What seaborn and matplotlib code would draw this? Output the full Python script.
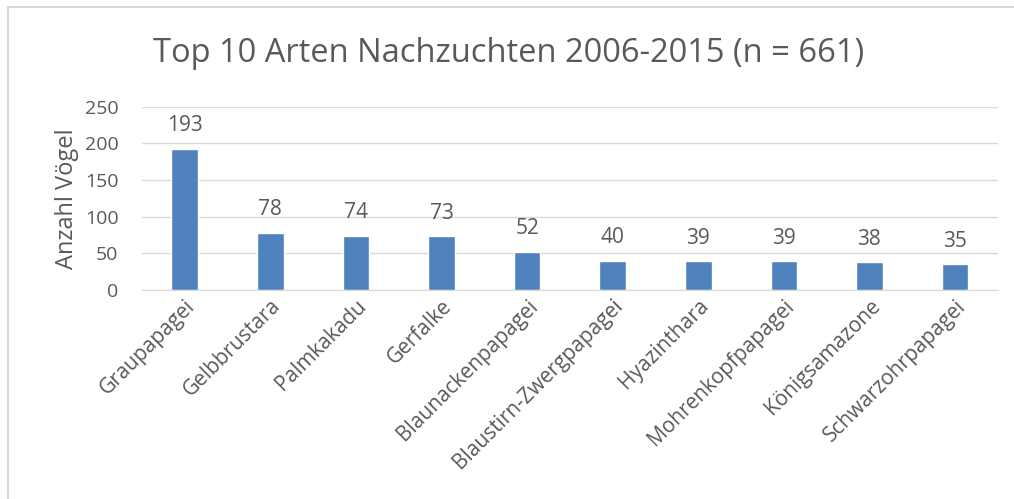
import numpy as np
import pandas as pd
import matplotlib.pyplot as plt
import seaborn as sns
from matplotlib.patches import Rectangle

arten = ["Graupapagei", "Gelbbrustara", "Palmkakadu", "Gerfalke", "Blaunackenpapagei",
         "Blaustirn-Zwergpapagei", "Hyazinthara", "Mohrenkopfpapagei", "Königsamazone",
         "Schwarzohrpapagei"]
anzahl = [193, 78, 74, 73, 52, 40, 39, 39, 38, 35]

df = pd.DataFrame({"Art": arten, "Anzahl": anzahl})

sns.set_style("white")
plt.rcParams['font.family'] = ['Open Sans', 'DejaVu Sans']
text_col = '#595959'

fig = plt.figure(figsize=(10.14, 4.99), dpi=100)
ax = fig.add_axes([0.140, 0.419, 0.844, 0.367])

sns.barplot(data=df, x="Art", y="Anzahl", color='#4F81BD', width=0.31,
            saturation=1, ax=ax)

ax.set_ylim(0, 250)
ax.set_xlim(-0.5, 9.5)
ax.set_yticks(range(0, 251, 50))
ax.yaxis.grid(True, color='#D9D9D9', linewidth=1)
ax.set_axisbelow(True)
for s in ['top', 'right', 'left']:
    ax.spines[s].set_visible(False)
ax.spines['bottom'].set_color('#D9D9D9')

ax.tick_params(axis='y', length=0, labelsize=14, colors=text_col, pad=17)
ax.tick_params(axis='x', length=0, labelsize=15, colors=text_col, pad=4)
ax.set_xticks(range(len(arten)))
ax.set_xticklabels(arten, rotation=45, ha='right', rotation_mode='anchor')
ax.set_xlabel('')
ax.set_ylabel('Anzahl Vögel', fontsize=17, color=text_col, labelpad=4)

for i, v in enumerate(anzahl):
    ax.annotate(str(v), (i, v), xytext=(0, 9), textcoords='offset points',
                ha='center', va='bottom', fontsize=15, color=text_col)

fig.suptitle('Top 10 Arten Nachzuchten 2006-2015 (n = 661)', x=0.502, y=0.925,
             fontsize=23.5, color=text_col)

fig.patches.append(Rectangle((8 / 1014, -0.01), 1.0, 1 - 7 / 499 + 0.01,
                             transform=fig.transFigure, fill=False,
                             edgecolor='#D9D9D9', linewidth=1.5))

fig.savefig('out.png', dpi=100)
